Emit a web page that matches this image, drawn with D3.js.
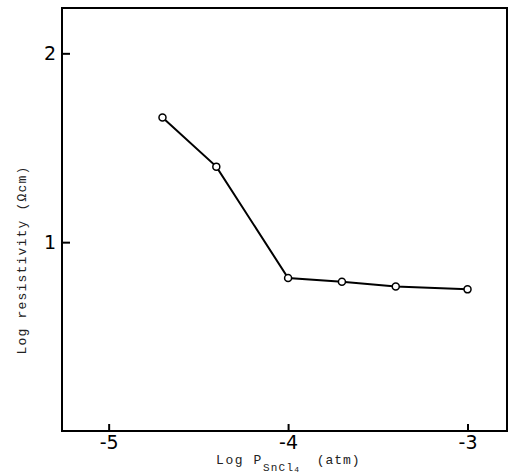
<!DOCTYPE html>
<html>
<head>
  <script src="https://d3js.org/d3.v7.min.js"></script>
  <style>
    body { margin: 0; background: #fff; }
    .tick-label { font-family: "DejaVu Sans", sans-serif; font-size: 19px; }
    .title { font-family: "Liberation Mono", monospace; font-size: 13px; letter-spacing: 1.2px; fill: #222; }
  </style>
</head>
<body>
  <div id="chart"></div>
  <script>
    // data
    const logP = [-4.7, -4.4, -4.0, -3.7, -3.4, -3.0];
    const logRes = [1.66, 1.40, 0.81, 0.79, 0.765, 0.75];
    const xTicks = [-5, -4, -3];
    const yTicks = [1, 2];

    const width = 512, height = 474;
    const margin = { top: 8, right: 5, bottom: 43, left: 62 };

    const svg = d3.select("#chart").append("svg")
      .attr("width", width)
      .attr("height", height);

    const x = d3.scaleLinear().domain([-5.26, -2.78]).range([margin.left, width - margin.right]);
    const y = d3.scaleLinear().domain([0, 2.24]).range([height - margin.bottom, margin.top]);

    // frame
    svg.append("rect")
      .attr("x", margin.left)
      .attr("y", margin.top)
      .attr("width", width - margin.right - margin.left)
      .attr("height", height - margin.bottom - margin.top)
      .attr("fill", "none")
      .attr("stroke", "#000")
      .attr("stroke-width", 2);

    // inward ticks
    const xAxis = d3.axisBottom(x).tickValues(xTicks).tickSize(-7).tickPadding(4)
      .tickFormat(d => "-" + Math.abs(d));
    const gx = svg.append("g")
      .attr("transform", `translate(0,${height - margin.bottom})`)
      .call(xAxis);
    gx.select(".domain").remove();
    gx.selectAll("line").attr("stroke-width", 2);
    gx.selectAll("text").attr("class", "tick-label").attr("fill", "#000").attr("font-size", null).attr("font-family", null);

    const yAxis = d3.axisLeft(y).tickValues(yTicks).tickSize(-8).tickPadding(6).tickFormat(d3.format("d"));
    const gy = svg.append("g")
      .attr("transform", `translate(${margin.left},0)`)
      .call(yAxis);
    gy.select(".domain").remove();
    gy.selectAll("line").attr("stroke-width", 2);
    gy.selectAll("text").attr("class", "tick-label").attr("fill", "#000").attr("font-size", null).attr("font-family", null);

    // axis titles
    svg.append("text")
      .attr("class", "title")
      .attr("text-anchor", "middle")
      .attr("transform", "translate(26,260) rotate(-90)")
      .text("Log resistivity (\u03A9cm)");

    const xt = svg.append("text")
      .attr("class", "title")
      .attr("x", 216)
      .attr("y", 464)
      .attr("font-size", 14)
      .style("letter-spacing", "1.6px");
    xt.append("tspan").text("Log P");
    xt.append("tspan").attr("dy", 7).attr("font-size", 11).style("letter-spacing", "1.2px").text("SnCl");
    xt.append("tspan").attr("dy", 1).attr("font-size", 8).text("4");
    xt.append("tspan").attr("dy", -8).attr("dx", 16).attr("font-size", 13).style("letter-spacing", "1px").text("(atm)");

    // line and markers
    const pts = logP.map((p, i) => ({ p, r: logRes[i] }));
    svg.append("path")
      .datum(pts)
      .attr("fill", "none")
      .attr("stroke", "#000")
      .attr("stroke-width", 2)
      .attr("d", d3.line().x(d => x(d.p)).y(d => y(d.r)));

    svg.selectAll("circle")
      .data(pts)
      .join("circle")
      .attr("cx", d => x(d.p))
      .attr("cy", d => y(d.r))
      .attr("r", 3.5)
      .attr("fill", "#fff")
      .attr("stroke", "#000")
      .attr("stroke-width", 1.5);
  </script>
</body>
</html>
